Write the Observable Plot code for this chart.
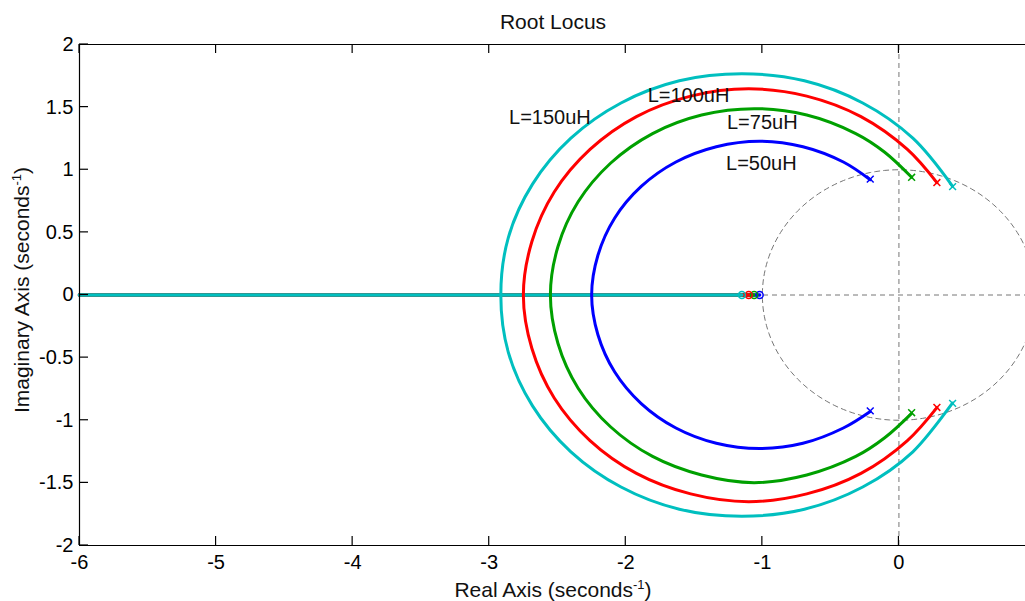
<!DOCTYPE html>
<html><head><meta charset="utf-8">
<script src="https://cdn.jsdelivr.net/npm/d3@7"></script>
<script src="https://cdn.jsdelivr.net/npm/@observablehq/plot@0.6"></script>
<style>
html,body{margin:0;padding:0;background:#fff;overflow:hidden;}
#chart{position:relative;width:1025px;height:601px;overflow:hidden;}
#chart svg{overflow:hidden;}
</style></head><body><div id="chart"></div>
<script>
// ---- data ----
const seriesLabels = ["L=50uH", "L=75uH", "L=100uH", "L=150uH"];
const seriesColors = ["#0000ff", "#00a000", "#ff0000", "#00bfbf"];

// branch from complex pole to break-in point (real part, imaginary part)
const re50   = [-0.21, -0.407, -0.703, -1.02, -1.337, -1.633, -1.887, -2.082, -2.204, -2.25];
const imUp50 = [0.92, 1.062, 1.184, 1.228, 1.184, 1.062, 0.867, 0.613, 0.317, 0];
const imLo50 = [-0.93, -1.062, -1.184, -1.226, -1.184, -1.062, -0.867, -0.613, -0.317, 0];

const re75   = [0.093, -0.104, -0.316, -0.675, -1.06, -1.445, -1.804, -2.112, -2.349, -2.497, -2.552];
const imUp75 = [0.94, 1.14, 1.289, 1.437, 1.488, 1.437, 1.289, 1.052, 0.744, 0.385, 0];
const imLo75 = [-0.945, -1.14, -1.289, -1.437, -1.498, -1.437, -1.289, -1.052, -0.744, -0.385, 0];

const re100   = [0.278, 0.062, -0.278, -0.675, -1.10, -1.525, -1.922, -2.262, -2.524, -2.688, -2.75];
const imUp100 = [0.897, 1.162, 1.424, 1.588, 1.646, 1.588, 1.424, 1.162, 0.822, 0.425, 0];
const imLo100 = [-0.899, -1.162, -1.424, -1.588, -1.65, -1.588, -1.424, -1.162, -0.822, -0.425, 0];

const re150   = [0.393, 0.102, -0.265, -0.692, -1.15, -1.608, -2.035, -2.402, -2.683, -2.86, -2.915];
const imUp150 = [0.868, 1.252, 1.533, 1.71, 1.766, 1.71, 1.533, 1.252, 0.885, 0.458, 0];
const imLo150 = [-0.862, -1.252, -1.533, -1.71, -1.766, -1.71, -1.533, -1.252, -0.885, -0.458, 0];

const poleRe = [-0.21, 0.093, 0.278, 0.393];
const poleIm = [0.925, 0.94, 0.898, 0.865];
const zeroRe = [-1.02, -1.06, -1.10, -1.15];
const realAxisStart = -6;

const labelRe = [-1.266, -1.259, -1.84, -2.855];
const labelIm = [0.995, 1.322, 1.540, 1.362];

const xTicks = [-6, -5, -4, -3, -2, -1, 0];
const yTicks = [-2, -1.5, -1, -0.5, 0, 0.5, 1, 1.5, 2];
const xDomain = [-6, 1];
const yDomain = [-2, 2];

const titleText = "Root Locus";
const xLabelText = "Real Axis (seconds";
const yLabelText = "Imaginary Axis (seconds";
const supText = "-1";

// ---- build tables ----
const reArr = [re50, re75, re100, re150];
const upArr = [imUp50, imUp75, imUp100, imUp150];
const loArr = [imLo50, imLo75, imLo100, imLo150];
// one continuous path per series: upper pole -> break-in -> lower pole
const branches = [];
seriesLabels.forEach((s, i) => {
  const re = reArr[i], up = upArr[i], lo = loArr[i];
  re.forEach((r, j) => branches.push({series: s, re: r, im: up[j]}));
  for (let j = re.length - 2; j >= 0; j--) branches.push({series: s, re: re[j], im: lo[j]});
});
const realAxis = [];
seriesLabels.forEach((s, i) => {
  realAxis.push({series: s, re: realAxisStart, im: 0});
  realAxis.push({series: s, re: zeroRe[i], im: 0});
});
const poles = [];
seriesLabels.forEach((s, i) => {
  poles.push({series: s, re: poleRe[i], im: poleIm[i]});
  poles.push({series: s, re: poleRe[i], im: -poleIm[i]});
});
const zeros = seriesLabels.map((s, i) => ({series: s, re: zeroRe[i], im: 0}));
const labels = seriesLabels.map((s, i) => ({series: s, re: labelRe[i], im: labelIm[i]}));
// unit-circle grid guide
const unitCircle = d3.range(0, 361, 2).map(a => ({re: Math.cos(a * Math.PI / 180), im: Math.sin(a * Math.PI / 180)}));

const gridStyle = {stroke: "#767676", strokeWidth: 1, strokeDasharray: "5,4"};
const font = "'Liberation Sans', Arial, Helvetica, sans-serif";

const plot = Plot.plot({
  width: 1025, height: 601,
  marginLeft: 79, marginRight: 0, marginTop: 44, marginBottom: 56,
  x: {domain: xDomain, range: [79, 1035]},
  y: {domain: yDomain},
  color: {domain: seriesLabels, range: seriesColors},
  style: {fontFamily: font, fontSize: "20px", background: "white", color: "black", overflow: "hidden"},
  marks: [
    Plot.line(unitCircle, {x: "re", y: "im", ...gridStyle}),
    Plot.ruleX([0], {y1: yDomain[0], y2: yDomain[1], ...gridStyle}),
    Plot.ruleY([0], {x1: xDomain[0], x2: xDomain[1], ...gridStyle}),
    Plot.line(realAxis, {x: "re", y: "im", z: "series", stroke: "series", strokeWidth: 3.5}),
    Plot.line(branches, {x: "re", y: "im", z: "series", stroke: "series", strokeWidth: 3, curve: "catmull-rom"}),
    Plot.dot(poles, {x: "re", y: "im", stroke: "series", symbol: "times", r: 3.2, strokeWidth: 1.5}),
    Plot.dot(zeros, {x: "re", y: "im", stroke: "series", fill: "none", r: 3.5, strokeWidth: 1.5}),
    Plot.text(labels, {x: "re", y: "im", text: "series", textAnchor: "start", lineAnchor: "bottom", fontSize: 20, fill: "#111"}),
    Plot.ruleX(xDomain, {y1: yDomain[0], y2: yDomain[1], stroke: "black", strokeWidth: 1.2}),
    Plot.ruleY(yDomain, {x1: xDomain[0], x2: xDomain[1], stroke: "black", strokeWidth: 1.2}),
    Plot.axisX({ticks: xTicks, tickSize: 0, tickPadding: 9, tickFormat: d => String(d), label: null, fontSize: 20}),
    Plot.axisY({ticks: yTicks, tickSize: 0, tickPadding: 6, tickFormat: d => String(d), label: null, fontSize: 20})
  ]
});
document.getElementById("chart").appendChild(plot);

// inward ticks on all four sides, positioned by Plot's scales
const sx = plot.scale("x"), sy = plot.scale("y");
const svg = d3.select(plot);
const tg = svg.append("g").attr("stroke", "black").attr("stroke-width", 1.2);
const yTop = sy.apply(yDomain[1]), yBot = sy.apply(yDomain[0]);
const xL = sx.apply(xDomain[0]), xR = sx.apply(xDomain[1]);
const tl = 9;
xTicks.forEach(t => {
  const px = sx.apply(t);
  tg.append("line").attr("x1", px).attr("x2", px).attr("y1", yBot).attr("y2", yBot - tl);
  tg.append("line").attr("x1", px).attr("x2", px).attr("y1", yTop).attr("y2", yTop + tl);
});
yTicks.forEach(t => {
  const py = sy.apply(t);
  tg.append("line").attr("y1", py).attr("y2", py).attr("x1", xL).attr("x2", xL + tl);
  tg.append("line").attr("y1", py).attr("y2", py).attr("x1", xR).attr("x2", xR - tl);
});

// title and axis labels
const tx = svg.append("g").attr("font-family", font).attr("fill", "#111");
tx.append("text").attr("x", 553).attr("y", 29).attr("text-anchor", "middle").attr("font-size", 21).text(titleText);
const xl = tx.append("text").attr("x", 553).attr("y", 597).attr("text-anchor", "middle").attr("font-size", 21);
xl.append("tspan").text(xLabelText);
xl.append("tspan").attr("font-size", 13).attr("dy", -8).text(supText);
xl.append("tspan").attr("dy", 8).text(")");
const yl = tx.append("text").attr("transform", "translate(29,290) rotate(-90)").attr("text-anchor", "middle").attr("font-size", 21);
yl.append("tspan").text(yLabelText);
yl.append("tspan").attr("font-size", 13).attr("dy", -8).text(supText);
yl.append("tspan").attr("dy", 8).text(")");
</script></body></html>
